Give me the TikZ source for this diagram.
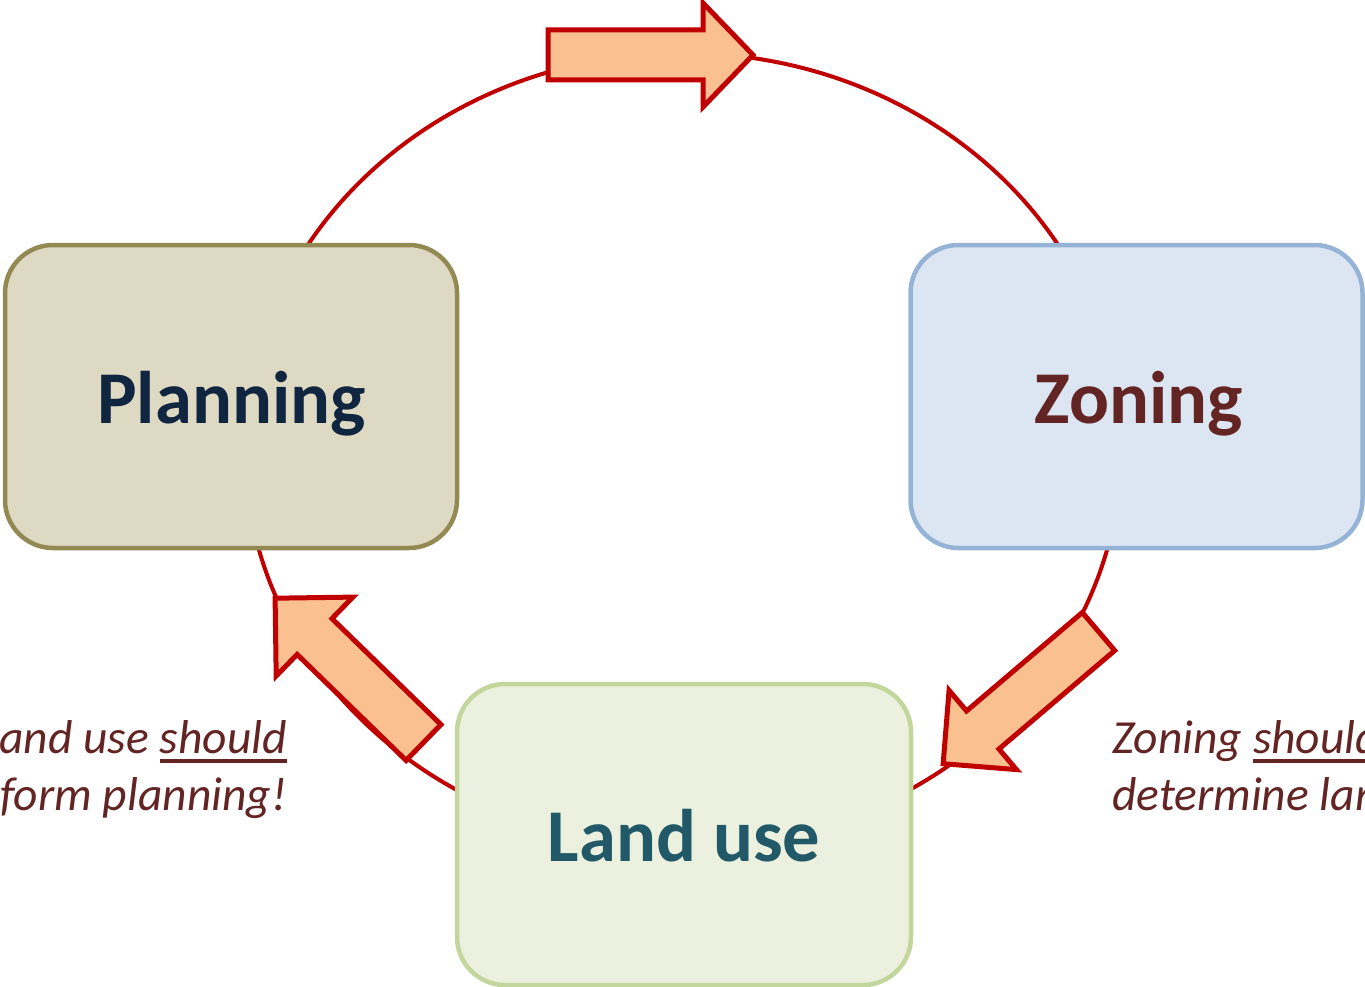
\documentclass[tikz,border=0pt]{standalone}
\usepackage{fontspec}
\setmainfont{Carlito}
\definecolor{cyclered}{HTML}{C00000}
\definecolor{arrowfill}{HTML}{FAC090}
\definecolor{planfill}{HTML}{DDD9C3}
\definecolor{planline}{HTML}{938953}
\definecolor{plantext}{HTML}{10253F}
\definecolor{zonefill}{HTML}{DCE6F2}
\definecolor{zoneline}{HTML}{95B3D7}
\definecolor{zonetext}{HTML}{632523}
\definecolor{usefill}{HTML}{EBF1DE}
\definecolor{useline}{HTML}{C3D69B}
\definecolor{usetext}{HTML}{215968}
\definecolor{notetext}{HTML}{632523}
\newcommand{\thickul}[1]{\setbox0\hbox{#1}\rlap{\vrule width\wd0 height -6pt depth 10pt}\box0}
\begin{document}
\begin{tikzpicture}[x=1pt,y=-1pt,
    box/.style={line width=4.5pt, rounded corners=48pt, minimum width=452pt,
      minimum height=303pt, inner sep=0pt},
    label/.style={font=\fontsize{74.5}{90}\selectfont\bfseries, inner sep=0pt, anchor=base},
    note/.style={text=notetext, font=\fontsize{47.5}{57}\selectfont\itshape, inner sep=0pt},
    flow/.style={draw=cyclered, fill=arrowfill, line width=5pt}]
      \clip (0,0) rectangle (1365,987);
      % the cycle
      \draw[cyclered, line width=4pt] (683,450) ellipse (438 and 397);

      \node[box, draw=planline, fill=planfill] (planning) at (231,396.5) {};
      \node[box, draw=zoneline, fill=zonefill] (zoning) at (1136.5,396.5) {};
      \node[box, draw=useline, fill=usefill, minimum width=454pt, minimum height=301pt] (landuse) at (684,834.5) {};

      \node[label, text=plantext] (planninglabel) at (231.5,423) {Planning};
      \node[label, text=zonetext] (zoninglabel) at (1138.5,423) {Zoning};
      \node[label, text=usetext] (landuselabel) at (684,861) {Land use};

      % block arrows along the cycle
      \begin{scope}[shift={(548,55)}]
        \draw[flow] (0,-25) -- (155,-25) -- (155,-52) -- (205,0) -- (155,52) -- (155,25) -- (0,25) -- cycle;
      \end{scope}
      \begin{scope}[shift={(1098.5,631.5)}, rotate=220.4]
        \draw[flow] (0,-25) -- (152,-25) -- (152,-52) -- (204,0) -- (152,52) -- (152,25) -- (0,25) -- cycle;
      \end{scope}
      \begin{scope}[shift={(423.5,742.5)}, rotate=135.8]
        \draw[flow] (0,-25) -- (152,-25) -- (152,-55) -- (207,0) -- (152,55) -- (152,25) -- (0,25) -- cycle;
      \end{scope}

      \node[note, anchor=base east, align=right] (usenote) at (287,810)
        {Land use \thickul{should}\\inform planning!};
      \node[note, anchor=base west, align=left] (zonenote) at (1112,810)
        {Zoning \thickul{should}\\determine land use};
    \end{tikzpicture}
\end{document}
